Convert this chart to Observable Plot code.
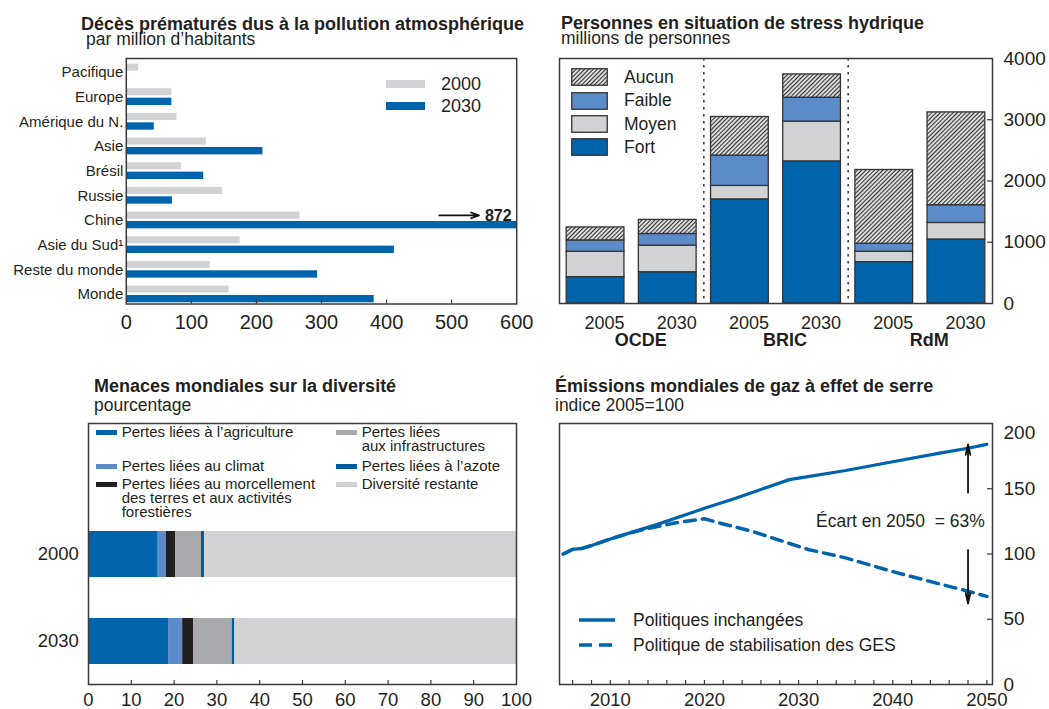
<!DOCTYPE html>
<html lang="fr">
<head>
<meta charset="utf-8">
<script src="https://cdn.jsdelivr.net/npm/d3@7"></script>
<script src="https://cdn.jsdelivr.net/npm/@observablehq/plot@0.6"></script>
<style>
html, body { margin:0; padding:0; background:#fff; overflow:hidden; }
#root { position:relative; width:1049px; height:709px; overflow:hidden; font-family:"Liberation Sans", Arial, Helvetica, sans-serif; color:#231f20; }
.abs { position:absolute; white-space:nowrap; }
.title { font-weight:bold; font-size:18px; line-height:14px; }
.sub { font-size:17.5px; line-height:14px; }
.panel { position:absolute; }
.panel svg { max-width:none !important; overflow:visible; }
.lg15 { font-size:15px; line-height:14px; }
</style>
</head>
<body>
<svg width="0" height="0" style="position:absolute">
  <defs>
    <pattern id="hatch" patternUnits="userSpaceOnUse" width="3" height="3" patternTransform="rotate(45)">
      <rect width="3" height="3" fill="#ffffff"></rect>
      <line x1="1.5" y1="0" x2="1.5" y2="3" stroke="#2e2e2e" stroke-width="1.35"></line>
    </pattern>
  </defs>
</svg>
<div id="root"></div>
<script>
// ---------- DATA ----------
// Panel 1: premature deaths from air pollution (per million inhabitants)
const regions = ["Pacifique", "Europe", "Amérique du N.", "Asie", "Brésil", "Russie", "Chine", "Asie du Sud¹", "Reste du monde", "Monde"];
const deaths2000 = [19, 70, 78, 123, 85, 148, 267, 175, 129, 158];
const deaths2030 = [1, 70, 43, 210, 119, 71, 872, 412, 294, 381];
const deathTicks = [0, 100, 200, 300, 400, 500, 600];
const chinaNote = [{region: "Chine", from: 481, to: 542, value: 872}];

// Panel 2: people under water stress (millions)
const stressGroups = ["OCDE", "BRIC", "RdM"];
const stressYears = ["2005", "2030"];
const stressLevels = ["Fort", "Moyen", "Faible", "Aucun"];
const stressFort   = [430, 510, 1700, 2320, 675, 1045];
const stressMoyen  = [415, 435, 220, 650, 170, 270];
const stressFaible = [185, 190, 495, 390, 130, 290];
const stressAucun  = [212, 230, 630, 380, 1205, 1515];
const stressTicks = [0, 1000, 2000, 3000, 4000];

// Panel 3: global threats to biodiversity (%)
const bioYears = ["2000", "2030"];
const threats = ["Pertes liées à l’agriculture", "Pertes liées au climat", "Pertes liées au morcellement des terres et aux activités forestières", "Pertes liées aux infrastructures", "Pertes liées à l’azote", "Diversité restante"];
const bio2000 = [16.3, 1.9, 2.2, 6.0, 0.7, 72.9];
const bio2030 = [18.7, 3.3, 2.6, 9.0, 0.6, 65.8];
const bioTicks = [0, 10, 20, 30, 40, 50, 60, 70, 80, 90, 100];

// Panel 4: global GHG emissions (index 2005=100)
const solidYears  = [2005, 2006, 2007, 2008, 2010, 2012, 2015, 2018, 2020, 2023, 2025, 2027, 2029, 2031, 2035, 2040, 2045, 2048, 2050];
const solidValues = [100, 103.5, 104.3, 106.5, 111.5, 116, 122.7, 130, 135, 142, 147, 152, 157, 159.3, 164, 170.7, 177.3, 181, 184];
const dashYears  = [2005, 2006, 2007, 2008, 2010, 2012, 2014, 2017, 2020, 2022, 2025, 2028, 2031, 2035, 2040, 2045, 2048, 2050];
const dashValues = [100, 103.5, 104.3, 106.5, 111.5, 116, 119.5, 124, 127, 123, 117.5, 110.5, 103.5, 97, 86.5, 77, 71.5, 67.5];
const emisTickLabels = [2010, 2020, 2030, 2040, 2050];
const emisMinorTicks = [2006, 2008, 2010, 2012, 2014, 2016, 2018, 2020, 2022, 2024, 2026, 2028, 2030, 2032, 2034, 2036, 2038, 2040, 2042, 2044, 2046, 2048, 2050];
const emisYTicks = [0, 50, 100, 150, 200];
const gapArrows = [{year: 2048, from: 147, to: 184}, {year: 2048, from: 103, to: 62}];
const gapNote = [{year: 2050, value: 125, label: "Écart en 2050\u00a0\u00a0= 63%"}];

// ---------- STYLE ----------
const FONT = '"Liberation Sans", Arial, Helvetica, sans-serif';
const INK = "#231f20";
const FRAME = "#3a3a3a";
const BLUE = "#0064ad";
const MIDBLUE = "#5b8cc9";
const LIGHTGREY = "#d1d2d4";
const MIDGREY = "#a7a9ac";
const BLACK = "#231f20";
const root = document.getElementById("root");

function place(svg, left, top) {
  const d = document.createElement("div");
  d.className = "panel";
  d.style.left = left + "px";
  d.style.top = top + "px";
  d.appendChild(svg);
  root.appendChild(d);
}
function html(str) { root.insertAdjacentHTML("beforeend", str); }

// ---------- TITLES ----------
html(`<div class="abs title" style="left:81px;top:16.5px">Décès prématurés dus à la pollution atmosphérique</div>`);
html(`<div class="abs sub" style="left:86px;top:31.9px">par million d’habitants</div>`);
html(`<div class="abs title" style="left:561px;top:16.1px">Personnes en situation de stress hydrique</div>`);
html(`<div class="abs sub" style="left:561px;top:31.2px">millions de personnes</div>`);
html(`<div class="abs title" style="left:94px;top:378.8px">Menaces mondiales sur la diversité</div>`);
html(`<div class="abs sub" style="left:94px;top:397.5px">pourcentage</div>`);
html(`<div class="abs title" style="left:555px;top:378.5px">Émissions mondiales de gaz à effet de serre</div>`);
html(`<div class="abs sub" style="left:555px;top:397.6px">indice 2005=100</div>`);

// ---------- PANEL 1 ----------
{
  const W = 530, H = 290, mt = 8, mr = 13.8, mb = 36.5, ml = 125.8;
  const frameH = H - mt - mb;
  const rows2000 = regions.map((r, i) => ({region: r, value: deaths2000[i]}));
  const rows2030 = regions.map((r, i) => ({region: r, value: deaths2030[i]}));
  const svg = Plot.plot({
    width: W, height: H, marginTop: mt, marginRight: mr, marginBottom: mb, marginLeft: ml,
    style: {fontFamily: FONT, color: INK, background: "transparent", overflow: "visible"},
    x: {domain: [0, 600]},
    y: {domain: regions, padding: 0, round: false, insetTop: 1.6, insetBottom: -2.7},
    marks: [
      Plot.barX(rows2000, {x: "value", y: "region", fill: LIGHTGREY, insetTop: 4, insetBottom: 13.6, clip: true}),
      Plot.barX(rows2030, {x: "value", y: "region", fill: BLUE, insetTop: 13.4, insetBottom: 3.9, clip: true}),
      Plot.tickX(deathTicks.slice(1, -1), {x: d => d, insetTop: frameH - 4, stroke: FRAME, strokeWidth: 1.2}),
      Plot.axisX(deathTicks, {tickSize: 0, tickPadding: 10.3, fontSize: 20, label: null}),
      Plot.axisY({tickSize: 0, tickPadding: 3, fontSize: 15, label: null}),
      Plot.frame({stroke: FRAME, strokeWidth: 1.5}),
      Plot.arrow(chinaNote, {x1: "from", x2: "to", y1: "region", y2: "region", dy: -5, stroke: "#111", strokeWidth: 1.8, headLength: 7, headAngle: 40}),
      Plot.text(chinaNote, {x: "to", y: "region", dy: -5, dx: 6, text: d => String(d.value), textAnchor: "start", fontWeight: "bold", fontSize: 16})
    ]
  });
  place(svg, 0, 50);
  // legend
  html(`<div class="abs" style="left:386px;top:80px;width:39px;height:8px;background:${LIGHTGREY}"></div>`);
  html(`<div class="abs" style="left:386px;top:101.5px;width:39px;height:8px;background:${BLUE}"></div>`);
  html(`<div class="abs" style="left:441px;top:75.2px;font-size:18px;line-height:18px">2000</div>`);
  html(`<div class="abs" style="left:441px;top:96.7px;font-size:18px;line-height:18px">2030</div>`);
}

// ---------- PANEL 2 ----------
{
  const W = 519, H = 300, mt = 8, mr = 57, mb = 47, ml = 29;
  const frameW = W - ml - mr;
  const step = frameW / 6;
  const barKeys = stressGroups.flatMap(g => stressYears.map(y => `${g}|${y}`));
  const series = [stressFort, stressMoyen, stressFaible, stressAucun];
  const rows = barKeys.flatMap((k, i) => stressLevels.map((lvl, j) => ({bar: k, level: lvl, value: series[j][i]})));
  const fills = [BLUE, LIGHTGREY, MIDBLUE, "url(#hatch)"];
  const svg = Plot.plot({
    width: W, height: H, marginTop: mt, marginRight: mr, marginBottom: mb, marginLeft: ml,
    style: {fontFamily: FONT, color: INK, background: "transparent", overflow: "visible"},
    x: {domain: barKeys, paddingInner: 0.2, paddingOuter: 0.1, round: false},
    y: {domain: [0, 4000]},
    color: {domain: stressLevels, range: fills},
    marks: [
      Plot.barY(rows, {x: "bar", y: "value", fill: "level", stroke: "#333", strokeWidth: 1.3}),
      Plot.ruleX([barKeys[1], barKeys[3]], {x: d => d, dx: step / 2, stroke: "#333", strokeWidth: 1.5, strokeDasharray: "2.5,4.5"}),
      Plot.tickY(stressTicks.slice(1, -1), {y: d => d, insetLeft: frameW - 5, stroke: FRAME, strokeWidth: 1.2}),
      Plot.axisY(stressTicks, {anchor: "right", tickSize: 0, tickPadding: 11, fontSize: 19, tickFormat: d => String(d), label: null}),
      Plot.axisX({tickSize: 0, tickPadding: 12.3, fontSize: 18, dx: 9, tickFormat: d => d.split("|")[1], label: null}),
      Plot.text(stressGroups, {x: g => `${g}|2005`, text: d => d, dx: step / 2 + 9, frameAnchor: "bottom", lineAnchor: "middle", dy: 36.3, fontWeight: "bold", fontSize: 18}),
      Plot.frame({stroke: FRAME, strokeWidth: 1.5})
    ]
  });
  place(svg, 530, 50);
  // legend
  const tops = [68.3, 91.7, 115, 138.3];
  const textTops = [69.2, 92.2, 115.8, 138.8];
  const legendOrder = ["Aucun", "Faible", "Moyen", "Fort"];
  legendOrder.forEach((lvl, i) => {
    const fill = fills[stressLevels.indexOf(lvl)];
    html(`<svg class="abs" style="left:570.5px;top:${tops[i]}px" width="37" height="18"><rect x="0.75" y="0.75" width="35.5" height="16.5" fill="${fill}" stroke="#333" stroke-width="1.3"></rect></svg>`);
    html(`<div class="abs" style="left:624px;top:${textTops[i]}px;font-size:17.5px;line-height:17.5px">${lvl}</div>`);
  });
}

// ---------- PANEL 3 ----------
{
  const W = 530, H = 294, mt = 8, mr = 14, mb = 25, ml = 88;
  const frameH = H - mt - mb;
  const series = [bio2000, bio2030];
  const rows = bioYears.flatMap((y, i) => threats.map((t, j) => ({year: y, threat: t, value: series[i][j]})));
  const fills = [BLUE, MIDBLUE, BLACK, MIDGREY, "#005a9e", LIGHTGREY];
  const svg = Plot.plot({
    width: W, height: H, marginTop: mt, marginRight: mr, marginBottom: mb, marginLeft: ml,
    style: {fontFamily: FONT, color: INK, background: "transparent", overflow: "visible"},
    x: {domain: [0, 100]},
    y: {domain: bioYears, insetTop: 88, paddingInner: 0.471, paddingOuter: 0.23, round: false},
    color: {domain: threats, range: fills},
    marks: [
      Plot.barX(rows, {x: "value", y: "year", fill: "threat"}),
      Plot.tickX(bioTicks.slice(1, -1), {x: d => d, insetTop: frameH - 4, stroke: FRAME, strokeWidth: 1.2}),
      Plot.axisX(bioTicks, {tickSize: 0, tickPadding: 8, fontSize: 18.5, label: null}),
      Plot.axisY({tickSize: 0, tickPadding: 9.6, fontSize: 18.5, label: null}),
      Plot.frame({stroke: FRAME, strokeWidth: 1.5})
    ]
  });
  place(svg, 0, 415);
  // legend
  const sw = (left, top, color) => html(`<div class="abs" style="left:${left}px;top:${top}px;width:20.5px;height:5px;background:${color}"></div>`);
  sw(96.3, 429.5, fills[0]);
  html(`<div class="abs lg15" style="left:121.7px;top:424.8px">${threats[0]}</div>`);
  sw(96.3, 463.5, fills[1]);
  html(`<div class="abs lg15" style="left:121.7px;top:458.8px">${threats[1]}</div>`);
  sw(96.3, 482, fills[2]);
  html(`<div class="abs lg15" style="left:121.7px;top:477.3px">Pertes liées au morcellement<br>des terres et aux activités<br>forestières</div>`);
  sw(336.4, 429.5, fills[3]);
  html(`<div class="abs lg15" style="left:361.7px;top:424.8px">Pertes liées<br>aux infrastructures</div>`);
  sw(336.4, 463.5, fills[4]);
  html(`<div class="abs lg15" style="left:361.7px;top:458.8px">${threats[4]}</div>`);
  sw(336.4, 482, fills[5]);
  html(`<div class="abs lg15" style="left:361.7px;top:477.3px">${threats[5]}</div>`);
}

// ---------- PANEL 4 ----------
{
  const W = 519, H = 294, mt = 8, mr = 57, mb = 25, ml = 29;
  const frameW = W - ml - mr, frameH = H - mt - mb;
  const solidRows = solidYears.map((y, i) => ({year: y, value: solidValues[i]}));
  const dashRows = dashYears.map((y, i) => ({year: y, value: dashValues[i]}));
  const svg = Plot.plot({
    width: W, height: H, marginTop: mt, marginRight: mr, marginBottom: mb, marginLeft: ml,
    style: {fontFamily: FONT, color: INK, background: "transparent", overflow: "visible"},
    x: {domain: [2004.6, 2050.6]},
    y: {domain: [0, 200]},
    marks: [
      Plot.line(dashRows, {x: "year", y: "value", stroke: BLUE, strokeWidth: 3.5, strokeDasharray: "11,7"}),
      Plot.line(solidRows, {x: "year", y: "value", stroke: BLUE, strokeWidth: 3.2}),
      Plot.arrow(gapArrows, {x1: "year", x2: "year", y1: "from", y2: "to", stroke: "#111", strokeWidth: 1.8, headLength: 9, headAngle: 25}),
      Plot.text(gapNote, {x: "year", y: "value", text: "label", textAnchor: "end", dx: -2, fontSize: 17.5}),
      Plot.tickX(emisMinorTicks, {x: d => d, insetTop: frameH - 4, stroke: FRAME, strokeWidth: 1.2}),
      Plot.tickY(emisYTicks.slice(1, -1), {y: d => d, insetLeft: frameW - 5, stroke: FRAME, strokeWidth: 1.2}),
      Plot.axisX(emisTickLabels, {tickSize: 0, tickPadding: 8, fontSize: 18.5, tickFormat: d => String(d), label: null}),
      Plot.axisY(emisYTicks.slice(0, -1), {anchor: "right", tickSize: 0, tickPadding: 11, fontSize: 19, label: null}),
      Plot.axisY(emisYTicks.slice(-1), {anchor: "right", tickSize: 0, tickPadding: 11, fontSize: 19, dy: 9, label: null}),
      Plot.frame({stroke: FRAME, strokeWidth: 1.5})
    ]
  });
  place(svg, 530, 415);
  // legend
  html(`<svg class="abs" style="left:579px;top:610px" width="38" height="40"><line x1="0" y1="10" x2="36" y2="10" stroke="${BLUE}" stroke-width="3.5"></line><line x1="0" y1="35" x2="36" y2="35" stroke="${BLUE}" stroke-width="3.5" stroke-dasharray="13,7"></line></svg>`);
  html(`<div class="abs" style="left:633px;top:611.5px;font-size:17.5px;line-height:17.5px">Politiques inchangées</div>`);
  html(`<div class="abs" style="left:633px;top:636.5px;font-size:17.5px;line-height:17.5px">Politique de stabilisation des GES</div>`);
}
</script>
</body>
</html>
